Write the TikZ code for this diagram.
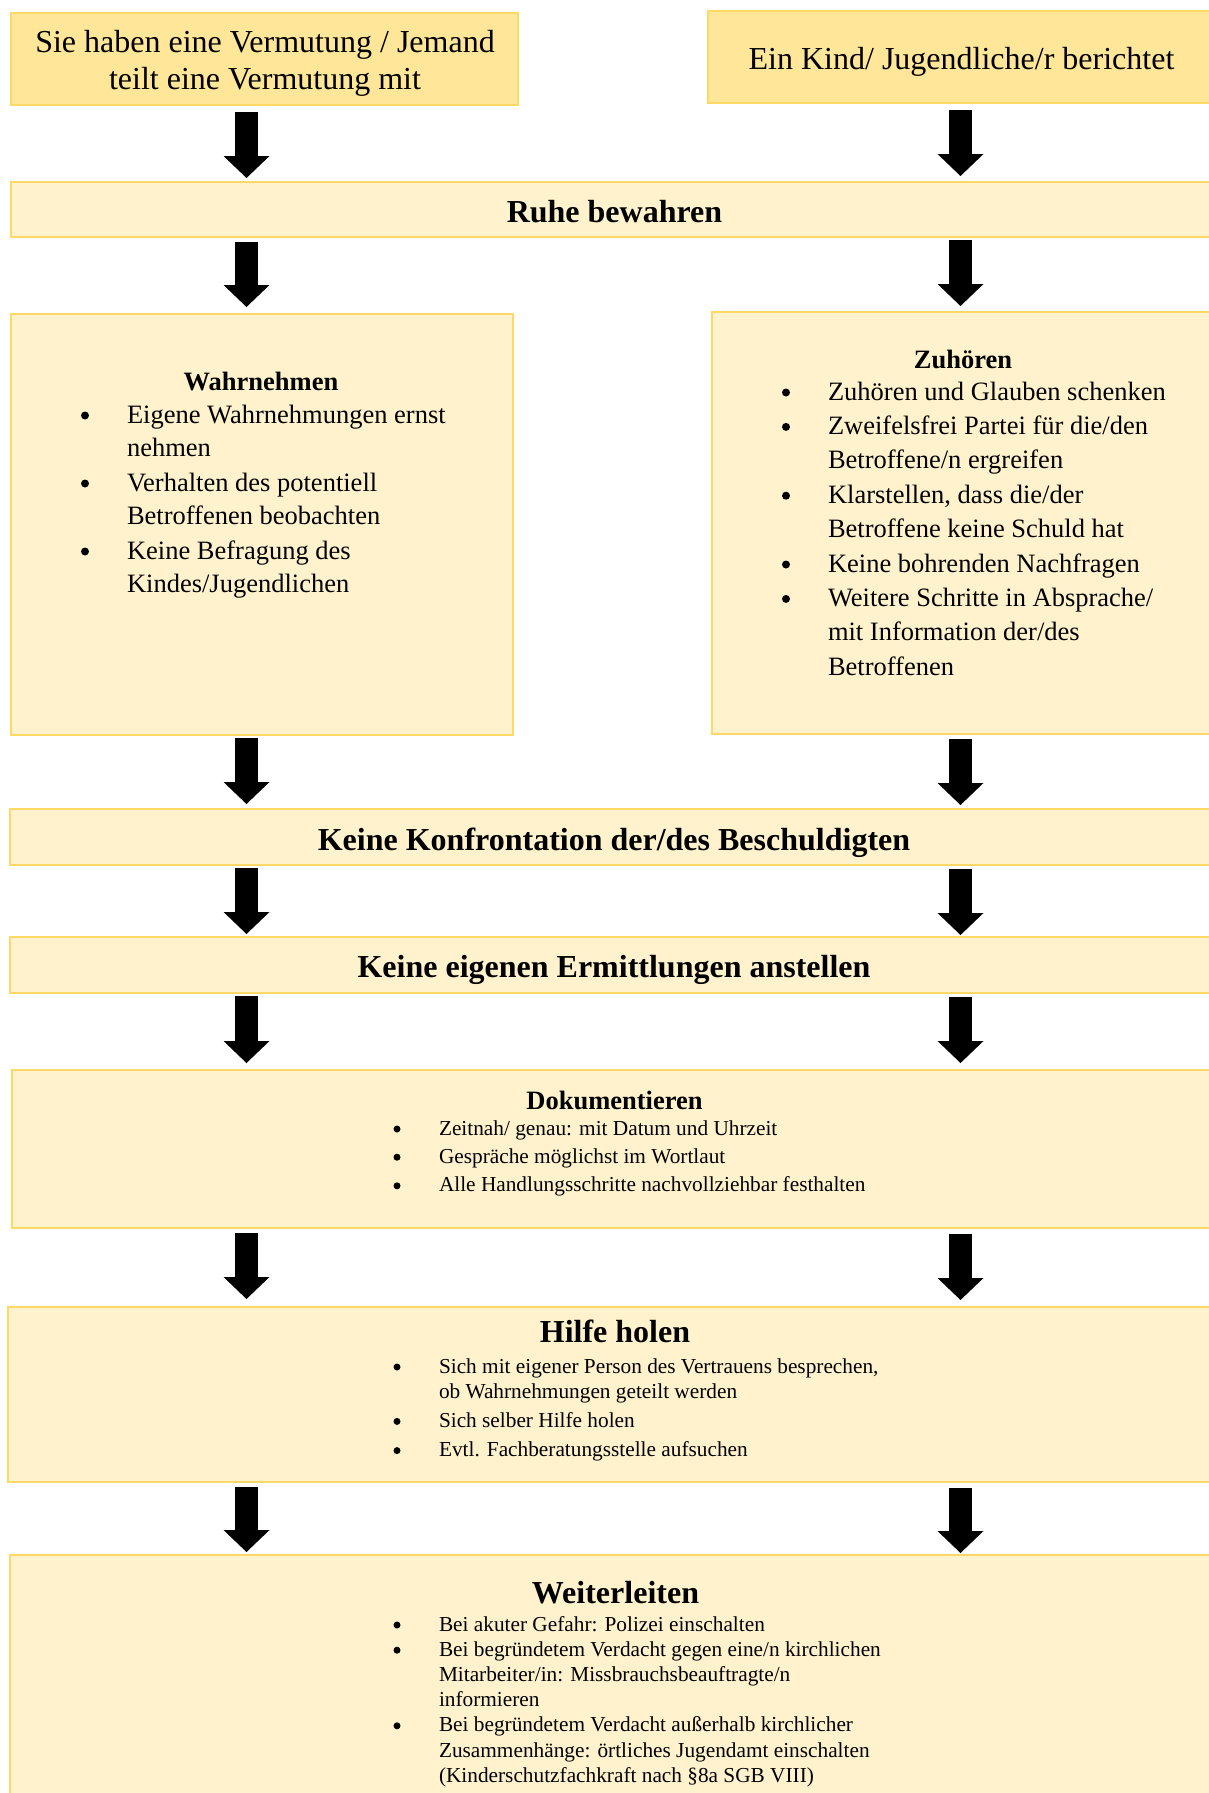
\documentclass[tikz,border=0pt]{standalone}
\usepackage{fontspec}
\setmainfont{Liberation Serif}
\usetikzlibrary{arrows.meta,fit}
\definecolor{boxfill}{HTML}{FFF2CC}
\definecolor{topfill}{HTML}{FFE699}
\definecolor{boxline}{HTML}{FFD966}
\begin{document}
\begin{tikzpicture}[x=0.5pt,y=-0.5pt,
  box/.style={draw=boxline, line width=1.25pt, fill=boxfill, inner sep=0pt, outer sep=0pt},
  topbox/.style={box, fill=topfill},
  txt/.style={inner sep=0pt, outer sep=0pt, text=black},
  bigtitle/.style={txt, anchor=base, font=\fontsize{16pt}{18.5pt}\selectfont\bfseries},
  smalltitle/.style={txt, anchor=base, font=\fontsize{13.25pt}{16pt}\selectfont\bfseries},
  biglist/.style={txt, anchor=base west, font=\fontsize{13.25pt}{#1}\selectfont},
  smalllist/.style={txt, anchor=base west, font=\fontsize{10.65pt}{12.6pt}\selectfont},
  bigdot/.style={fill=black},
  barrow/.style 2 args={draw=black, line width=11.25pt, line cap=butt,
    -{Triangle[width=23pt,length=11pt,line width=0pt]}, shorten <=#1, shorten >=#2},
]
\useasboundingbox (0,0) rectangle (1209,1793);
\clip (0,0) rectangle (1209,1793);

% column coordinates for the arrows
\coordinate (cl) at (246.5,0);
\coordinate (cr) at (960.5,0);

% boxes
\node[topbox, fit={(11,13)(518,105)}] (box1) {};
\node[topbox, fit={(708,11)(1216,103)}] (box2) {};
\node[box, fit={(11,182)(1216,237)}] (ruhe) {};
\node[box, fit={(11,314)(513,735)}] (wahr) {};
\node[box, fit={(712,312)(1216,734)}] (zuh) {};
\node[box, fit={(10,809)(1216,865)}] (konf) {};
\node[box, fit={(10,937)(1216,993)}] (erm) {};
\node[box, fit={(12,1070)(1216,1228)}] (doku) {};
\node[box, fit={(8,1307)(1216,1482)}] (hilfe) {};
\node[box, fit={(10,1555)(1216,1810)}] (weiter) {};

% texts
\node[txt, anchor=base, font=\fontsize{16pt}{18.5pt}\selectfont] (box1T) at (265,53)
  {\begin{tabular}[t]{@{}c@{}}Sie haben eine Vermutung / Jemand\\teilt eine Vermutung mit\end{tabular}};
\node[txt, anchor=base, font=\fontsize{16pt}{18.5pt}\selectfont] (box2T) at (961.5,70)
  {Ein Kind/ Jugendliche/r berichtet};
\node[bigtitle] (ruheT) at (614.5,222) {Ruhe bewahren};

\node[smalltitle] (wahrT) at (261,390) {Wahrnehmen};
\node[biglist=16.5pt] (wahrL) at (127,423)
  {\begin{tabular}[t]{@{}l@{}}
   Eigene Wahrnehmungen ernst\\
   nehmen\\[1pt]
   Verhalten des potentiell\\
   Betroffenen beobachten\\[1pt]
   Keine Befragung des\\
   Kindes/Jugendlichen
   \end{tabular}};
\foreach \by in {423,491,559} \fill[bigdot] (85,{\by-7.5}) circle (2pt);

\node[smalltitle] (zuhT) at (963,368) {Zuhören};
\node[biglist=17.2pt] (zuhL) at (828,400)
  {\begin{tabular}[t]{@{}l@{}}
   Zuhören und Glauben schenken\\
   Zweifelsfrei Partei für die/den\\
   Betroffene/n ergreifen\\
   Klarstellen, dass die/der\\
   Betroffene keine Schuld hat\\
   Keine bohrenden Nachfragen\\
   Weitere Schritte in Absprache/\\
   mit Information der/des\\
   Betroffenen
   \end{tabular}};
\foreach \by in {400,434.4,503.2,572,606.4} \fill[bigdot] (786,{\by-7.5}) circle (2pt);

\node[bigtitle] (konfT) at (614,850) {Keine Konfrontation der/des Beschuldigten};
\node[bigtitle] (ermT) at (614,977) {Keine eigenen Ermittlungen anstellen};

\node[smalltitle] (dokuT) at (614.5,1109) {Dokumentieren};
\node[smalllist] (dokuL) at (439,1135)
  {\begin{tabular}[t]{@{}l@{}}
   Zeitnah/ genau: mit Datum und Uhrzeit\\[1.5pt]
   Gespräche möglichst im Wortlaut\\[1.7pt]
   Alle Handlungsschritte nachvollziehbar festhalten
   \end{tabular}};
\foreach \by in {1135,1163.2,1191.8} \fill[bigdot] (397,{\by-6}) circle (1.75pt);

\node[bigtitle] (hilfeT) at (615,1342) {Hilfe holen};
\node[smalllist] (hilfeL) at (439,1373)
  {\begin{tabular}[t]{@{}l@{}}
   Sich mit eigener Person des Vertrauens besprechen,\\
   ob Wahrnehmungen geteilt werden\\[2pt]
   Sich selber Hilfe holen\\[2pt]
   Evtl. Fachberatungsstelle aufsuchen
   \end{tabular}};
\foreach \by in {1373,1427.4,1456.6} \fill[bigdot] (397,{\by-6}) circle (1.75pt);

\node[bigtitle] (weiterT) at (615.5,1603) {Weiterleiten};
\node[smalllist] (weiterL) at (439,1631)
  {\begin{tabular}[t]{@{}l@{}}
   Bei akuter Gefahr: Polizei einschalten\\
   Bei begründetem Verdacht gegen eine/n kirchlichen\\
   Mitarbeiter/in: Missbrauchsbeauftragte/n\\
   informieren\\
   Bei begründetem Verdacht außerhalb kirchlicher\\
   Zusammenhänge: örtliches Jugendamt einschalten\\
   (Kinderschutzfachkraft nach §8a SGB VIII)
   \end{tabular}};
\foreach \by in {1631,1656.2,1731.8} \fill[bigdot] (397,{\by-6}) circle (1.75pt);

% arrows
\draw[barrow={3.5pt}{2pt}] (box1.south -| cl) -- (ruhe.north -| cl);
\draw[barrow={3.5pt}{3pt}] (box2.south -| cr) -- (ruhe.north -| cr);
\draw[barrow={2.5pt}{3.5pt}] (ruhe.south -| cl) -- (wahr.north -| cl);
\draw[barrow={1.5pt}{3pt}] (ruhe.south -| cr) -- (zuh.north -| cr);
\draw[barrow={1.5pt}{2.5pt}] (wahr.south -| cl) -- (konf.north -| cl);
\draw[barrow={2.5pt}{2pt}] (zuh.south -| cr) -- (konf.north -| cr);
\draw[barrow={1.5pt}{1.5pt}] (konf.south -| cl) -- (erm.north -| cl);
\draw[barrow={2pt}{1pt}] (konf.south -| cr) -- (erm.north -| cr);
\draw[barrow={1.5pt}{3.5pt}] (erm.south -| cl) -- (doku.north -| cl);
\draw[barrow={2pt}{3.5pt}] (erm.south -| cr) -- (doku.north -| cr);
\draw[barrow={2.5pt}{4pt}] (doku.south -| cl) -- (hilfe.north -| cl);
\draw[barrow={3pt}{3.5pt}] (doku.south -| cr) -- (hilfe.north -| cr);
\draw[barrow={2.5pt}{1.5pt}] (hilfe.south -| cl) -- (weiter.north -| cl);
\draw[barrow={3pt}{1pt}] (hilfe.south -| cr) -- (weiter.north -| cr);
\end{tikzpicture}
\end{document}
